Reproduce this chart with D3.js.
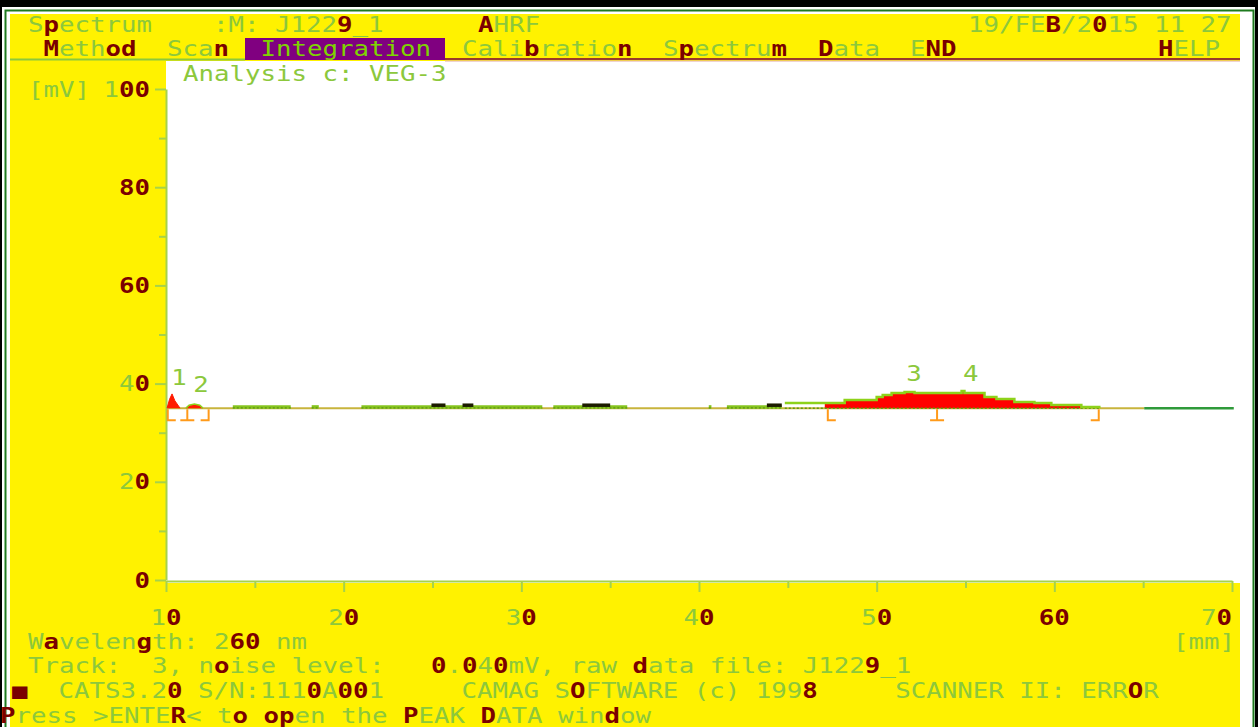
<!DOCTYPE html>
<html><head><meta charset="utf-8">
<script src="https://cdn.jsdelivr.net/npm/d3@7"></script>
<style>body{margin:0;background:#000;}svg{display:block}</style>
</head><body>
<svg id="c" width="1258" height="727"></svg>
<script>
// ---------- data ----------
// "^" marks the next character as one of the screen's dark-red glyphs
const xTicks = [10, 20, 30, 40, 50, 60, 70];
const xTickLabels = ["1^0", "2^0", "3^0", "4^0", "5^0", "^6^0", "7^0"];
const yTicks = [0, 20, 40, 60, 80, 100];
const yTickLabels = ["^0", "2^0", "4^0", "^6^0", "^8^0", "1^0^0"];
const baselineMV = 35.0;
const baselineStart = 10.06, baselineEnd = 65.06;

// peak 1 and 2 (mm, mV)
const peak1MM = [10.06, 10.2, 10.34, 10.5, 10.79];
const peak1MV = [35.0, 36.8, 37.9, 36.5, 35.0];
const peak2MM = [11.12, 11.3, 11.6, 11.9, 12.08];
const peak2MV = [35.0, 35.6, 35.85, 35.6, 35.0];

// broad hump (peaks 3 and 4), step data
const humpMM = [44.83, 47.08, 48.2, 50.0, 50.34, 50.84, 51.57, 52.13, 54.78, 54.94, 56.07, 56.74, 57.75, 58.88, 59.83, 61.52, 62.53];
const humpMV = [36.05, 36.05, 36.66, 37.27, 37.68, 38.09, 38.29, 38.09, 38.49, 38.09, 37.27, 36.86, 36.25, 36.05, 35.64, 35.23, 35.0];
const humpFillStart = 47.08, humpFillEnd = 61.52;

// small flat noise segments along the baseline
const greenSegStart = [13.76, 18.2, 21.0, 31.8, 40.55, 41.57];
const greenSegEnd   = [17.02, 18.6, 31.18, 35.96, 40.7, 44.66];
const greenSegMV = 35.25;
const darkSegStart = [24.94, 26.69, 33.43, 43.82];
const darkSegEnd   = [25.73, 27.3, 35.0, 44.66];
const darkSegMV = 35.6;
const tailMM = [65.06, 70.1];

const peakLabels = ["1", "2", "3", "4"];
const peakLabelMM = [10.73, 11.97, 52.1, 55.3];
const peakLabelMV = [41.3, 39.9, 42.0, 42.0];

const bracketMM = [10.1, 11.2, 12.4, 47.25, 53.4, 62.5];
const bracketType = ["[", "I", "]", "[", "I", "]"];

// ---------- styles ----------
const YEL = "#fff200", GRN = "#8cc83c", DRK = "#7a0000", PUR = "#800080";
const CW = 15.5, FS = 21, SX = CW / (0.602 * FS);

const svg = d3.select("#c");
svg.append("rect").attr("width", 1258).attr("height", 727).attr("fill", "#000");
svg.append("rect").attr("x", 2).attr("y", 7).attr("width", 1253).attr("height", 720).attr("fill", "#fff");
svg.append("path").attr("d", "M5.5,727V10.5H1253.5V727").attr("fill", "none").attr("stroke", "#1e7a1e").attr("stroke-width", 2);
svg.append("rect").attr("x", 10).attr("y", 14).attr("width", 1230).attr("height", 47).attr("fill", YEL);
svg.append("rect").attr("x", 10).attr("y", 60).attr("width", 156).attr("height", 524).attr("fill", YEL);
svg.append("rect").attr("x", 10).attr("y", 583).attr("width", 1230).attr("height", 144).attr("fill", YEL);
svg.append("rect").attr("x", 245).attr("y", 38).attr("width", 200).attr("height", 22).attr("fill", PUR);
svg.append("line").attr("x1", 10).attr("x2", 245).attr("y1", 59.5).attr("y2", 59.5).attr("stroke", GRN).attr("stroke-width", 2);
svg.append("line").attr("x1", 445).attr("x2", 1240).attr("y1", 59).attr("y2", 59).attr("stroke", "#9a3a2a").attr("stroke-width", 2);
svg.append("line").attr("x1", 445).attr("x2", 1240).attr("y1", 61).attr("y2", 61).attr("stroke", "#e0a8a0").attr("stroke-width", 1);

function parse(s) {
  const out = [];
  for (let i = 0; i < s.length; i++) {
    if (s[i] === "^") { out.push([s[i + 1], true]); i++; }
    else out.push([s[i], false]);
  }
  return out;
}
function txt(str, x, cy, color) {
  const t = svg.append("text")
    .attr("transform", `translate(${x},${cy + 7.5}) scale(${SX},1)`)
    .attr("font-family", "DejaVu Sans Mono, monospace")
    .attr("font-size", FS)
    .attr("xml:space", "preserve");
  parse(str).forEach(([ch, dark]) => {
    t.append("tspan").text(ch)
      .attr("fill", dark ? DRK : (color || GRN))
      .attr("font-weight", dark ? "bold" : "normal");
  });
  return t;
}
const plen = s => parse(s).length;

// header
txt("S^pectrum", 28, 24);
txt(":M: J122^9_1", 213, 24);
txt("^AHRF", 478, 24);
txt("19/FE^B/2^015 11 27", 968, 24);
txt("^Meth^o^d", 43.5, 48);
txt("Sca^n", 167, 48);
txt("Integration", 260.5, 48, "#7fd400");
txt("Cali^bratio^n", 462, 48);
txt("S^pectru^m", 663, 48);
txt("^Data", 818, 48);
txt("E^N^D", 910, 48);
txt("^HELP", 1158, 48);
txt("Analysis c: VEG-3", 183, 73);
txt("[mV]", 28, 89);

// footer
txt("W^avelen^gth: 2^6^0 nm", 28, 641);
txt("[mm]", 1173, 641);
txt("Track:  3, n^oise level:   ^0.^04^0mV, raw ^data file: J122^9_1", 28, 665);
txt("^■  CATS3.2^0 S/N:111^0A^0^01     CAMAG S^OFTWARE (c) 199^8     SCANNER II: ERR^OR", 12, 690);
txt("^Press >ENTE^R< t^o ^o^pen the ^PEAK ^DATA win^dow", 0, 715);

// ---------- scales & axes ----------
const x = d3.scaleLinear().domain([10, 70]).range([166, 1232]);
const y = d3.scaleLinear().domain([0, 100]).range([580, 89]);
const AX = "#a6d24a";

const yAxMinor = svg.append("g").attr("transform", `translate(${x(10)},0)`)
  .call(d3.axisLeft(y).tickValues(d3.range(10, 100, 20)).tickSize(7).tickFormat(""));
const yAxMajor = svg.append("g").attr("transform", `translate(${x(10)},0)`)
  .call(d3.axisLeft(y).tickValues(yTicks).tickSize(11).tickSizeOuter(0).tickFormat(""));
const xAxMinor = svg.append("g").attr("transform", `translate(0,${y(0) + 1})`)
  .call(d3.axisBottom(x).tickValues(d3.range(15, 70, 10)).tickSize(7).tickFormat(""));
const xAxMajor = svg.append("g").attr("transform", `translate(0,${y(0) + 1})`)
  .call(d3.axisBottom(x).tickValues(xTicks).tickSize(11).tickSizeOuter(0).tickFormat(""));
[yAxMinor, yAxMajor, xAxMinor, xAxMajor].forEach(g => {
  g.selectAll("path.domain").attr("stroke", AX).attr("stroke-width", 2);
  g.selectAll(".tick line").attr("stroke", AX).attr("stroke-width", 2);
});
yAxMinor.select("path.domain").remove();
xAxMinor.select("path.domain").remove();

yTicks.forEach((v, i) => {
  const s = yTickLabels[i];
  txt(s, 150 - plen(s) * CW, y(v));
});
xTicks.forEach((v, i) => {
  const s = xTickLabels[i], w = plen(s) * CW;
  txt(s, Math.min(x(v) - w / 2, x(70) - w), 617);
});

// ---------- trace ----------
const plot = svg.append("g");
plot.append("line").attr("x1", x(baselineStart)).attr("x2", x(baselineEnd))
  .attr("y1", y(baselineMV)).attr("y2", y(baselineMV))
  .attr("stroke", "#c8b43c").attr("stroke-width", 2);

const areaLin = d3.area().x(d => x(d[0])).y0(y(baselineMV)).y1(d => y(d[1]));
const p1 = peak1MM.map((m, i) => [m, peak1MV[i]]);
const p2 = peak2MM.map((m, i) => [m, peak2MV[i]]);
plot.append("path").attr("d", areaLin(p1)).attr("fill", "#ff1a00");
plot.append("path").attr("d", areaLin(p2)).attr("fill", "#ff1a00");
const hump = humpMM.map((m, i) => [m, humpMV[i]]);
const humpFill = hump.filter(d => d[0] >= humpFillStart && d[0] <= humpFillEnd);
humpFill.push([humpFillEnd, humpFill[humpFill.length - 1][1]]);
plot.append("path").attr("d", areaLin.curve(d3.curveStepAfter)(humpFill)).attr("fill", "#ff0000");

greenSegStart.forEach((s, i) => {
  plot.append("line").attr("x1", x(s)).attr("x2", x(greenSegEnd[i]))
    .attr("y1", y(greenSegMV)).attr("y2", y(greenSegMV))
    .attr("stroke", "#86c41e").attr("stroke-width", 3.5);
  plot.append("line").attr("x1", x(s)).attr("x2", x(greenSegEnd[i]))
    .attr("y1", y(greenSegMV) + 1).attr("y2", y(greenSegMV) + 1)
    .attr("stroke", "#4e8a10").attr("stroke-width", 1).attr("stroke-dasharray", "2,2");
});
darkSegStart.forEach((s, i) => {
  plot.append("line").attr("x1", x(s)).attr("x2", x(darkSegEnd[i]))
    .attr("y1", y(darkSegMV)).attr("y2", y(darkSegMV))
    .attr("stroke", "#1c1c00").attr("stroke-width", 3.5);
});
plot.append("line").attr("x1", x(44.83)).attr("x2", x(62.53))
  .attr("y1", y(baselineMV)).attr("y2", y(baselineMV))
  .attr("stroke", "#5a9a10").attr("stroke-width", 1.5).attr("stroke-dasharray", "2,2");

const lineStep = d3.line().x(d => x(d[0])).y(d => y(d[1])).curve(d3.curveStepAfter);
plot.append("path").attr("d", lineStep(hump)).attr("fill", "none")
  .attr("stroke", "#8ed21a").attr("stroke-width", 2.5);
const lineLin = d3.line().x(d => x(d[0])).y(d => y(d[1]));
plot.append("path").attr("d", lineLin(p1)).attr("fill", "none").attr("stroke", "#ff1a00").attr("stroke-width", 1);
plot.append("path").attr("d", lineLin(p2)).attr("fill", "none").attr("stroke", "#8ed21a").attr("stroke-width", 1.5);

plot.append("line").attr("x1", x(tailMM[0])).attr("x2", x(tailMM[1]))
  .attr("y1", y(baselineMV)).attr("y2", y(baselineMV))
  .attr("stroke", "#2f9a3a").attr("stroke-width", 2.5);

const by0 = y(baselineMV) + 1, by1 = y(baselineMV) + 12;
bracketMM.forEach((m, i) => {
  const bx = x(m), t = bracketType[i];
  let d = `M${bx},${by0}V${by1}`;
  if (t === "[") d += `H${bx + 8}`;
  else if (t === "]") d = `M${bx - 8},${by1}H${bx}V${by0}`;
  else d += `M${bx - 7},${by1}H${bx + 7}`;
  plot.append("path").attr("d", d).attr("fill", "none").attr("stroke", "#ff9a1a").attr("stroke-width", 2);
});

peakLabels.forEach((s, i) => {
  txt(s, x(peakLabelMM[i]) - CW / 2, y(peakLabelMV[i]));
});
</script>
</body></html>
